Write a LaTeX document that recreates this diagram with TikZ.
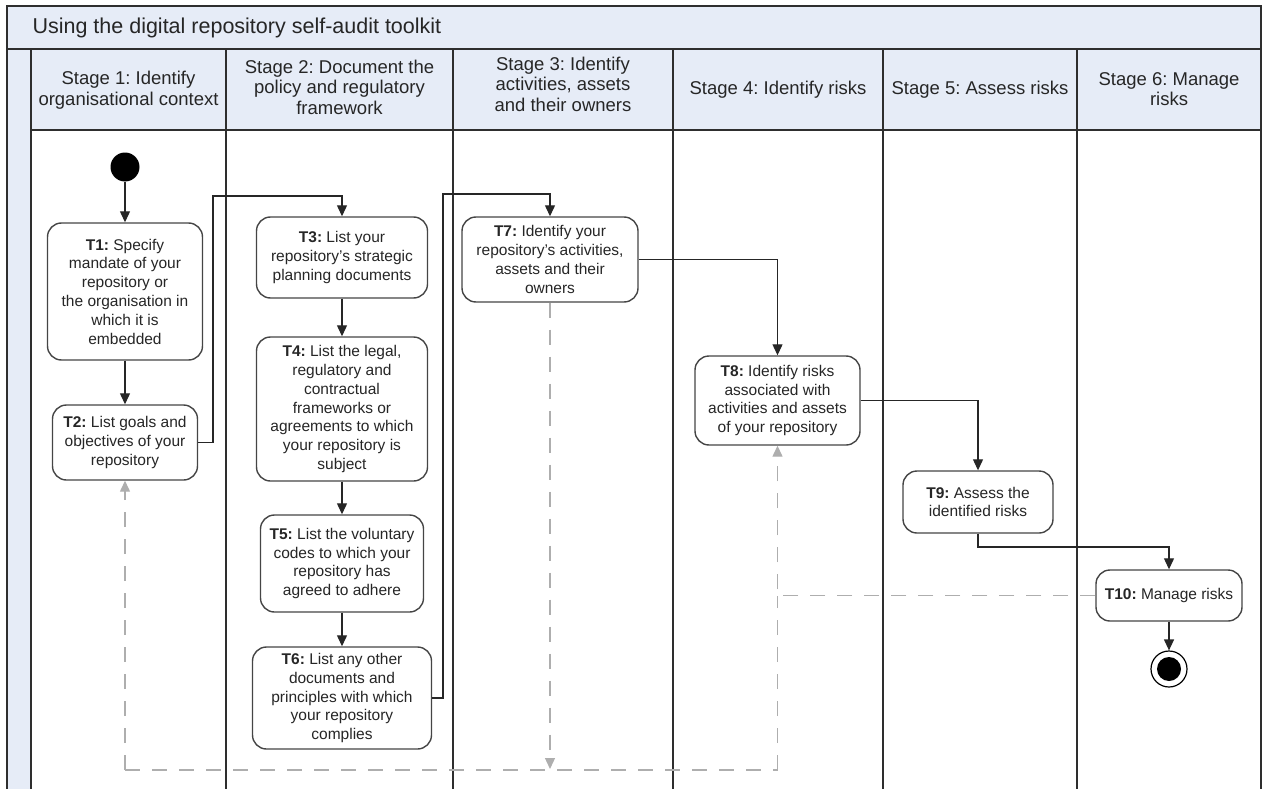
\documentclass[tikz,border=0pt]{standalone}
\usepackage{fontspec}
\setmainfont{Liberation Sans}
\usetikzlibrary{arrows.meta}
\frenchspacing
\definecolor{hdrblue}{HTML}{E6ECF7}
\definecolor{lanecol}{HTML}{2E2E2E}
\definecolor{boxcol}{HTML}{454545}
\definecolor{dashcol}{HTML}{AEAEAE}
\tikzset{
  task/.style={draw=boxcol, line width=1.4pt, rounded corners=14pt, fill=white, align=center, inner sep=0pt,
    font=\fontsize{15.5}{18.8}\selectfont, text=black!85},
  hdr/.style={align=center, font=\fontsize{18.5}{20.5}\selectfont, text=black!85},
  conn/.style={draw=black!85, line width=1.2pt, -{Triangle[length=11pt,width=10pt]}},
  garr/.style={draw=dashcol, line width=1.3pt, dash pattern=on 15pt off 12pt, -{Triangle[length=11pt,width=10pt]}},
  gline/.style={draw=dashcol, line width=1.3pt, dash pattern=on 15pt off 12pt},
  lane/.style={draw=lanecol, line width=1.2pt}
}
\begin{document}
\begin{tikzpicture}[x=1pt,y=-1pt]
\useasboundingbox (0,0) rectangle (1263,789);
% backgrounds
\fill[hdrblue] (7,6) rectangle (1261,130);
\fill[hdrblue] (7,49) rectangle (31,789);
% frame
\draw[lane] (7,789) -- (7,6) -- (1261,6) -- (1261,789);
\draw[lanecol, line width=2pt] (7,49) -- (1261,49);
\draw[lane] (31,130) -- (1261,130);
\foreach \x in {31,226,453,673,883,1077} { \draw[lane] (\x,49) -- (\x,789); }
% title
\node[anchor=west, font=\fontsize{21.5}{26}\selectfont, text=black!85] (title) at (29,28) {Using the digital repository self-audit toolkit};
% headers
\node[hdr] (h1) at (128.5,90) {Stage 1: Identify\\organisational context};
\node[hdr] (h2) at (339.5,87) {Stage 2: Document the\\policy and regulatory\\framework};
\node[hdr] (h3) at (563,84) {Stage 3: Identify\\activities, assets\\and their owners};
\node[hdr] (h4) at (778,90) {Stage 4: Identify risks};
\node[hdr] (h5) at (980,90) {Stage 5: Assess risks};
\node[hdr] (h6) at (1169,89) {Stage 6: Manage\\risks};
% start / end
\node[circle, fill=black, minimum size=29pt, inner sep=0pt] (start) at (125,167) {};
\node[circle, draw=black, line width=1.2pt, fill=white, minimum size=36pt, inner sep=0pt] (endo) at (1169,669) {};
\node[circle, fill=black, minimum size=24pt, inner sep=0pt] (endi) at (1169,669) {};
% tasks
\node[task, minimum width=155pt, minimum height=137pt] (T1) at (125,291.5) {\textbf{T1:} Specify\\mandate of your\\repository or\\the organisation in\\which it is\\embedded};
\node[task, minimum width=145pt, minimum height=75pt] (T2) at (125,442.5) {\textbf{T2:} List goals and\\objectives of your\\repository};
\node[task, minimum width=171pt, minimum height=81pt] (T3) at (342,257.5) {\textbf{T3:} List your\\repository's strategic\\planning documents};
\node[task, minimum width=171pt, minimum height=144pt] (T4) at (342,409) {\textbf{T4:} List the legal,\\regulatory and\\contractual\\frameworks or\\agreements to which\\your repository is\\subject};
\node[task, minimum width=163pt, minimum height=97pt] (T5) at (342,563.5) {\textbf{T5:} List the voluntary\\codes to which your\\repository has\\agreed to adhere};
\node[task, minimum width=179pt, minimum height=102pt] (T6) at (342,698) {\textbf{T6:} List any other\\documents and\\principles with which\\your repository\\complies};
\node[task, minimum width=176pt, minimum height=85pt] (T7) at (550,259.5) {\textbf{T7:} Identify your\\repository's activities,\\assets and their\\owners};
\node[task, minimum width=165pt, minimum height=89pt] (T8) at (777.5,400.5) {\textbf{T8:} Identify risks\\associated with\\activities and assets\\of your repository};
\node[task, minimum width=150pt, minimum height=62pt] (T9) at (978,502) {\textbf{T9:} Assess the\\identified risks};
\node[task, minimum width=146pt, minimum height=51pt] (T10) at (1169,595.5) {\textbf{T10:} Manage risks};
% routing coordinates
\coordinate (c2) at (213,196);
\coordinate (c6) at (443,194);
\coordinate (c9) at (978,547);
\coordinate (b7) at (550,769);
\coordinate (bl) at (125,770);
\coordinate (br) at (777.5,770);
% solid connectors
\draw[conn] (start) -- (T1);
\draw[conn] (T1) -- (T2);
\draw[conn] (T2.east) -| (c2) -| (T3.north);
\draw[conn] (T3) -- (T4);
\draw[conn] (T4) -- (T5);
\draw[conn] (T5) -- (T6);
\draw[conn] (T6.east) -| (c6) -| (T7.north);
\draw[conn] (T7.east) -| (T8.north);
\draw[conn] (T8.east) -| (T9.north);
\draw[conn] (T9.south) -- (c9) -| (T10.north);
\draw[conn] (T10.south) -- (endo.north);
% dashed feedback
\draw[garr] (T7.south) -- (b7);
\draw[gline] (bl) -- (br);
\draw[garr] (bl) -- (T2.south);
\draw[gline] (br) -- (T8.south |- T10.west);
\draw[garr] (T10.west) -| (T8.south);
\end{tikzpicture}
\end{document}
